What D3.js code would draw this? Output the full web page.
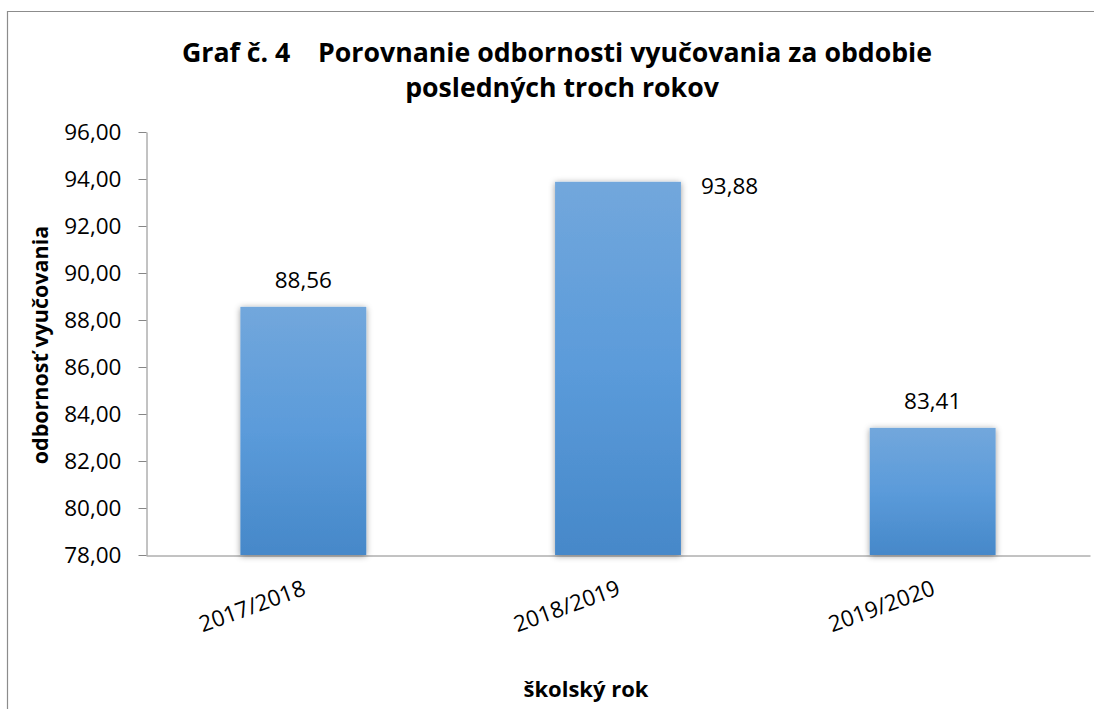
<!DOCTYPE html>
<html>
<head>
<meta charset="utf-8">
<script src="https://cdnjs.cloudflare.com/ajax/libs/d3/7.8.5/d3.min.js"></script>
<style>
  body { margin: 0; background: #fff; }
  text { font-family: "Open Sans", "Noto Sans", sans-serif; fill: #000; }
</style>
</head>
<body>
<div id="chart"></div>
<script>
// data
var years = ["2017/2018", "2018/2019", "2019/2020"];
var values = [88.56, 93.88, 83.41];
var yTicks = [78, 80, 82, 84, 86, 88, 90, 92, 94, 96];
var titleLines = ["Graf č. 4    Porovnanie odbornosti vyučovania za obdobie", "posledných troch rokov"];

var W = 1094, H = 709;
var margin = {top: 132, left: 146, right: 4, bottom: 154};

var svg = d3.select("#chart").append("svg")
    .attr("width", W)
    .attr("height", H);

var defs = svg.append("defs");
var grad = defs.append("linearGradient")
    .attr("id", "barGrad")
    .attr("x1", 0).attr("y1", 0).attr("x2", 0).attr("y2", 1);
grad.append("stop").attr("offset", "0%").attr("stop-color", "#72a7dc");
grad.append("stop").attr("offset", "50%").attr("stop-color", "#5b9bda");
grad.append("stop").attr("offset", "100%").attr("stop-color", "#4688c9");

var shadow = defs.append("filter").attr("id", "shadow")
    .attr("x", "-20%").attr("y", "-10%").attr("width", "140%").attr("height", "120%");
shadow.append("feDropShadow")
    .attr("dx", 0).attr("dy", 1).attr("stdDeviation", 3)
    .attr("flood-color", "#000").attr("flood-opacity", 0.4);

// outer frame (only left and top edges fall inside the picture)
svg.append("path")
    .attr("d", "M7.5," + H + "V11.5H" + W)
    .attr("fill", "none")
    .attr("stroke", "#8c8c8c")
    .attr("stroke-width", 1.2);

var x = d3.scaleBand()
    .domain(years)
    .range([margin.left, 1090])
    .paddingInner(0.6)
    .paddingOuter(0.3);

var y = d3.scaleLinear()
    .domain([78, 96])
    .range([555, margin.top]);

var fmt = function(d){ return d3.format(".2f")(d).replace(".", ","); };

// y axis
var yAxis = d3.axisLeft(y)
    .tickValues(yTicks)
    .tickSize(8)
    .tickSizeOuter(0)
    .tickPadding(17)
    .tickFormat(fmt);

var gy = svg.append("g")
    .attr("transform", "translate(" + (margin.left + 0.5) + ",0)")
    .call(yAxis);
gy.selectAll("path, line").attr("stroke", "#868686");
gy.selectAll("text").style("font-size", "22.5px").attr("fill", "#000");

// x axis
var xAxis = d3.axisBottom(x).tickSize(0).tickSizeOuter(0).tickFormat("");
var gx = svg.append("g")
    .attr("transform", "translate(0," + (y(78) + 0.5) + ")")
    .call(xAxis);
gx.selectAll("path").attr("stroke", "#868686");

// rotated category labels
svg.append("g").selectAll("text")
    .data(years)
    .enter().append("text")
    .attr("transform", function(d){
        return "translate(" + (x(d) + x.bandwidth() / 2 + 1) + "," + 587 + ") rotate(-20)";
    })
    .attr("text-anchor", "end")
    .attr("dy", "0.35em")
    .style("font-size", "22.5px")
    .text(function(d){ return d; });

// bars
svg.append("g").selectAll("rect")
    .data(values)
    .enter().append("rect")
    .attr("x", function(d, i){ return x(years[i]); })
    .attr("y", function(d){ return y(d); })
    .attr("width", x.bandwidth())
    .attr("height", function(d){ return y(78) - y(d); })
    .attr("fill", "url(#barGrad)")
    .attr("filter", "url(#shadow)");

// value labels (the middle one sits beside its bar)
svg.append("g").selectAll("text")
    .data(values)
    .enter().append("text")
    .attr("x", function(d, i){
        return i == 1 ? x(years[i]) + x.bandwidth() + 20 : x(years[i]) + x.bandwidth() / 2;
    })
    .attr("y", function(d, i){
        return i == 1 ? y(d) + 12 : y(d) - 19;
    })
    .attr("text-anchor", function(d, i){ return i == 1 ? "start" : "middle"; })
    .style("font-size", "22.5px")
    .text(fmt);

// title
svg.append("g").selectAll("text")
    .data(titleLines)
    .enter().append("text")
    .attr("x", function(d, i){ return 557 + i * 5; })
    .attr("y", function(d, i){ return 62 + i * 35; })
    .attr("text-anchor", "middle")
    .style("font-size", "26.7px")
    .style("font-weight", "bold")
    .style("white-space", "pre")
    .text(function(d){ return d; });

// axis titles
svg.append("text")
    .attr("transform", "translate(48,345) rotate(-90)")
    .attr("text-anchor", "middle")
    .style("font-size", "21.5px")
    .style("font-weight", "bold")
    .text("odbornosť vyučovania");

svg.append("text")
    .attr("x", 586)
    .attr("y", 697)
    .attr("text-anchor", "middle")
    .style("font-size", "22px")
    .style("font-weight", "bold")
    .text("školský rok");
</script>
</body>
</html>
